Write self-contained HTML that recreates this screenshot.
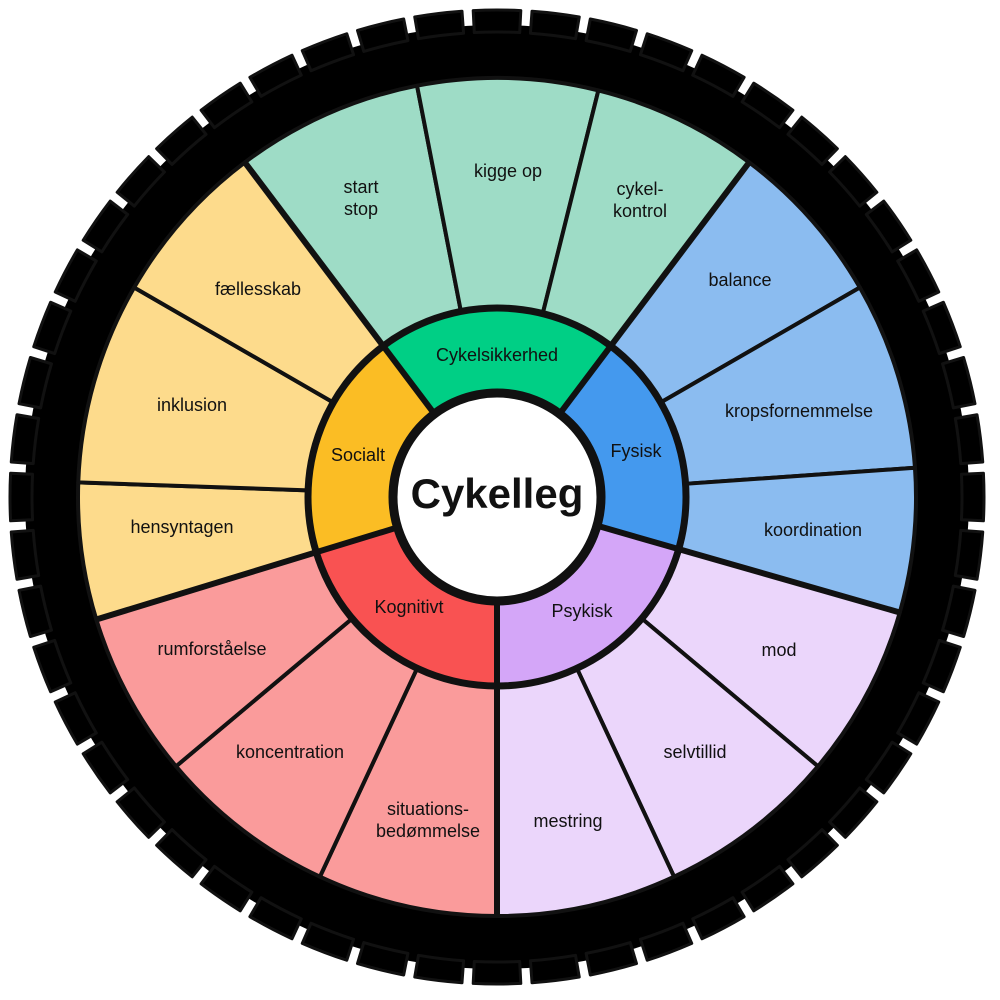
<!DOCTYPE html>
<html><head><meta charset="utf-8"><style>
html,body{margin:0;padding:0;background:#fff;}
svg{display:block}
text{font-family:"Comic Sans MS","Liberation Sans",sans-serif;fill:#111;text-anchor:middle;dominant-baseline:middle;}
.o{font-size:18px}
.m{font-size:18px}
</style></head><body>
<svg id="s" width="1000" height="1000" viewBox="0 0 1000 1000">
<g id="tire"></g>
<g id="segs"></g>
<circle cx="497" cy="497" r="104" fill="#fff" stroke="#111" stroke-width="9"/>
<text x="497" y="497" style="font-size:42px;font-weight:bold">Cykelleg</text>
<text class="m" x="497" y="356">Cykelsikkerhed</text>
<text class="m" x="636" y="452">Fysisk</text>
<text class="m" x="582" y="612">Psykisk</text>
<text class="m" x="409" y="608">Kognitivt</text>
<text class="m" x="358" y="456">Socialt</text>
<text class="o" x="361" y="188">start</text>
<text class="o" x="361" y="210">stop</text>
<text class="o" x="508" y="172">kigge op</text>
<text class="o" x="640" y="190">cykel-</text>
<text class="o" x="640" y="212">kontrol</text>
<text class="o" x="740" y="281">balance</text>
<text class="o" x="799" y="412">kropsfornemmelse</text>
<text class="o" x="813" y="531">koordination</text>
<text class="o" x="779" y="651">mod</text>
<text class="o" x="695" y="753">selvtillid</text>
<text class="o" x="568" y="822">mestring</text>
<text class="o" x="428" y="810">situations-</text>
<text class="o" x="428" y="832">bedømmelse</text>
<text class="o" x="290" y="753">koncentration</text>
<text class="o" x="212" y="650">rumforståelse</text>
<text class="o" x="182" y="528">hensyntagen</text>
<text class="o" x="192" y="406">inklusion</text>
<text class="o" x="258" y="290">fællesskab</text>
</svg>
<script>
var cx=497,cy=497,NS="http://www.w3.org/2000/svg";
function P(r,a){a=a*Math.PI/180;return [cx+r*Math.sin(a),cy-r*Math.cos(a)];}
function sector(r1,r2,a1,a2,fill){
 var p1=P(r2,a1),p2=P(r2,a2),p3=P(r1,a2),p4=P(r1,a1);
 var l=(a2-a1)>180?1:0;
 var d="M"+p1+" A"+r2+" "+r2+" 0 "+l+" 1 "+p2+" L"+p3+" A"+r1+" "+r1+" 0 "+l+" 0 "+p4+"Z";
 var e=document.createElementNS(NS,"path");e.setAttribute("d",d);e.setAttribute("fill",fill);
 e.setAttribute("stroke","#111");e.setAttribute("stroke-width","4");e.setAttribute("stroke-linejoin","round");
 return e;}
var segs=document.getElementById("segs"),tire=document.getElementById("tire");
var ring=document.createElementNS(NS,"circle");ring.setAttribute("cx",cx);ring.setAttribute("cy",cy);ring.setAttribute("r",445);
ring.setAttribute("fill","none");ring.setAttribute("stroke","#000");ring.setAttribute("stroke-width","54");tire.appendChild(ring);
for(var i=0;i<52;i++){var a=i*360/52;var t=sector(465,487,a-2.8,a+2.8,"#000");t.setAttribute("stroke-width","3");tire.appendChild(t);}
var groups=[
 {b:[323,349,374,397],i:"#00cf85",o:"#9edcc6"},
 {b:[37,60,86,106],i:"#4499ee",o:"#8bbcf0"},
 {b:[106,130,155,180],i:"#d4a6f8",o:"#ebd6fb"},
 {b:[180,205,230,253],i:"#f95252",o:"#fa9b9b"},
 {b:[253,272,300,323],i:"#fbbd24",o:"#fddb8c"}];
groups.forEach(function(g){
 for(var k=0;k<3;k++)segs.appendChild(sector(189,419,g.b[k],g.b[k+1],g.o));
 segs.appendChild(sector(104,189,g.b[0],g.b[3],g.i));
});
var ob=document.createElementNS(NS,"circle");ob.setAttribute("cx",cx);ob.setAttribute("cy",cy);ob.setAttribute("r",189);
ob.setAttribute("fill","none");ob.setAttribute("stroke","#111");ob.setAttribute("stroke-width","7");segs.appendChild(ob);
[323,37,106,180,253].forEach(function(a){var l=document.createElementNS(NS,"line");var p=P(104,a),q=P(419,a);
 l.setAttribute("x1",p[0]);l.setAttribute("y1",p[1]);l.setAttribute("x2",q[0]);l.setAttribute("y2",q[1]);
 l.setAttribute("stroke","#111");l.setAttribute("stroke-width","6");segs.appendChild(l);});
</script>
</body></html>
